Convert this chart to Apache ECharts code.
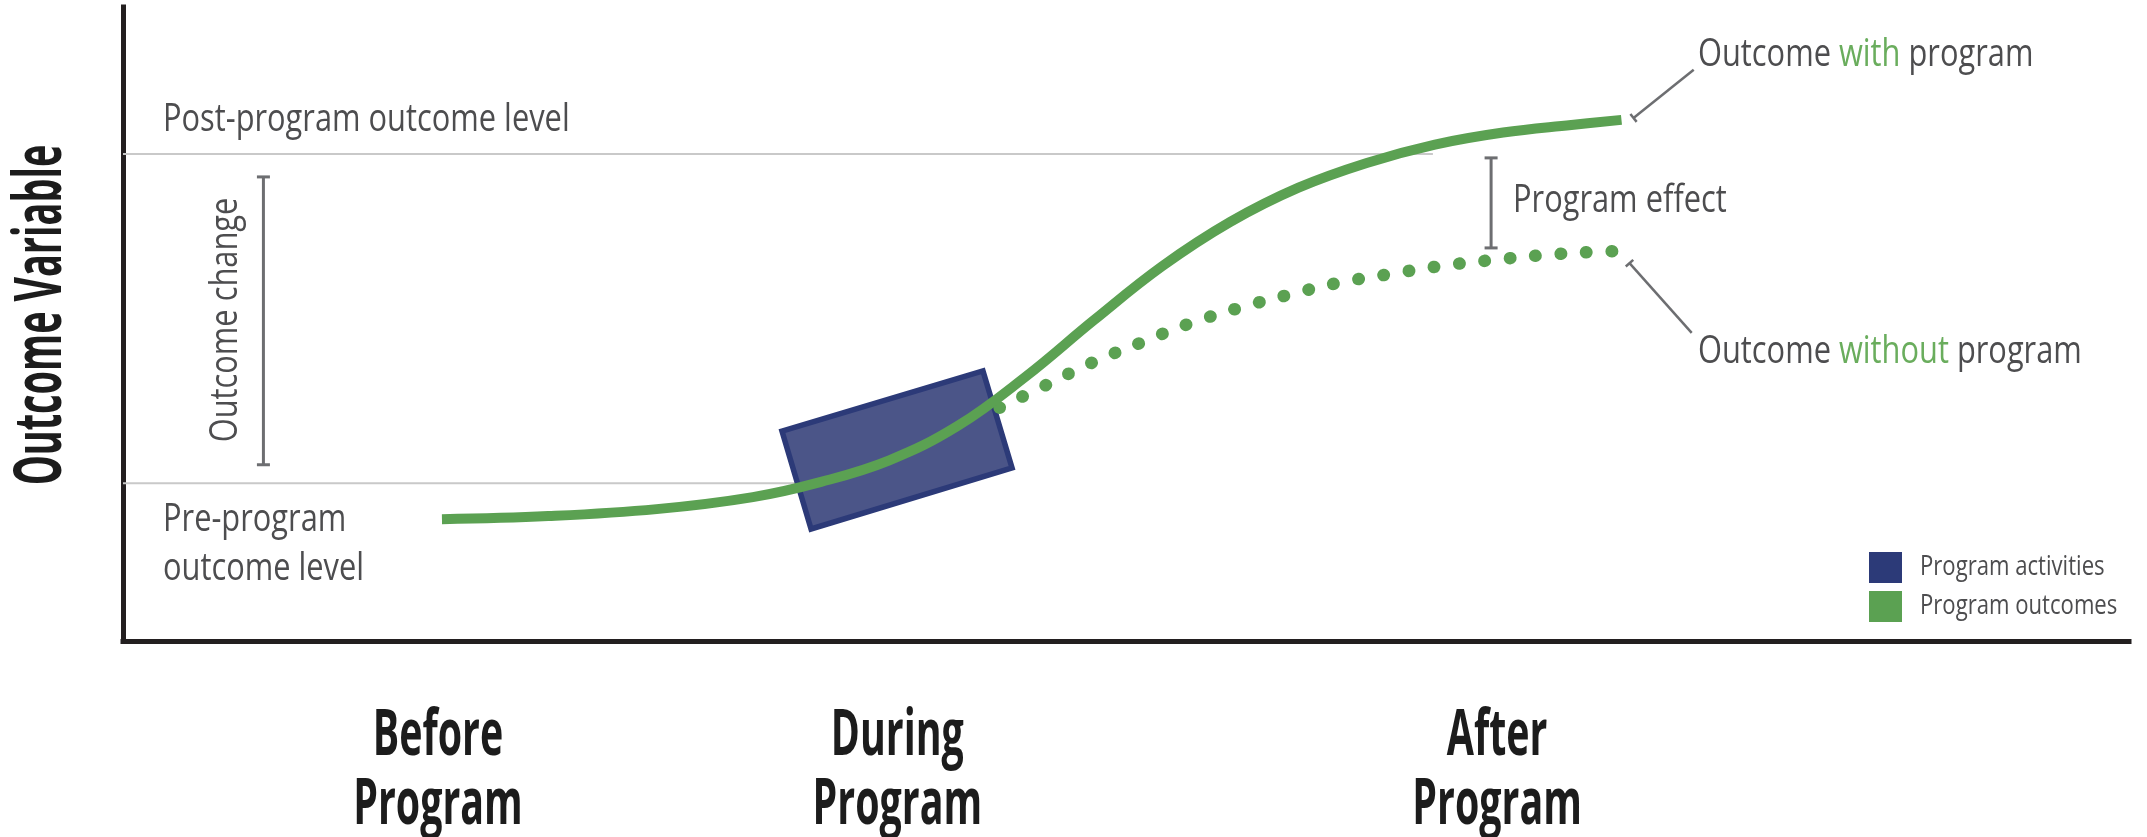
<!DOCTYPE html>
<html>
<head>
<meta charset="utf-8">
<script src="https://cdn.jsdelivr.net/npm/echarts@6/dist/echarts.min.js"></script>
<style>
  html, body { margin: 0; padding: 0; background: #fff; }
  #main { width: 2147px; height: 837px; }
</style>
</head>
<body>
<div id="main"></div>
<script>
// phases shown under the x axis
var phaseLabels = ['Before\nProgram', 'During\nProgram', 'After\nProgram'];
var phaseX = [15.7, 38.6, 68.5];

// outcome with program (solid curve)
var withX = [15.9, 21.2, 26.6, 31.4, 34.8, 38.2, 41.6, 45.0, 48.4, 51.8, 55.2, 58.6, 62.0, 65.4, 68.8, 72.2, 74.7];
var withY = [19.2, 19.7, 20.8, 22.7, 25.1, 28.5, 33.9, 41.7, 50.6, 59.1, 66.1, 71.5, 75.4, 78.3, 80.2, 81.4, 82.2];

// outcome without program (dotted curve)
var withoutX = [43.7, 45.9, 48.3, 50.7, 53.1, 55.6, 58.1, 60.6, 63.2, 65.8, 68.3, 70.9, 73.5, 74.8];
var withoutY = [36.8, 40.2, 43.9, 47.0, 50.0, 52.5, 54.6, 56.5, 57.9, 59.2, 60.1, 60.9, 61.4, 61.5];

// program activities box (corners)
var boxX = [32.85, 42.87, 44.32, 34.30];
var boxY = [33.12, 42.59, 27.29, 17.67];

// outcome levels
var preLevel = 24.9;
var postLevel = 76.8;

// brackets: [x, yTop, yBottom]
var changeBracket = [7.0, 73.2, 27.8];
var effectBracket = [68.2, 76.2, 62.0];

// leader lines: [x1, y1, x2, y2]
var withLeader = [75.3, 82.5, 78.3, 90.1];
var withoutLeader = [75.1, 59.6, 78.2, 48.6];

var GREEN = '#5ba152';
var GREEN_TEXT = '#6aad5d';
var NAVY = '#2c3a78';
var BOX_FILL = '#4b5588';
var INK = '#4d4d4f';
var DARK = '#1c1c1c';
var RULE = '#c9c9c9';
var BRACKET = '#6d6e71';
var FONT = 'Open Sans';
var SX = 0.79;   // fake a condensed face
var SXB = 0.615;

function zipXY(xs, ys) {
  return xs.map(function (x, i) { return [x, ys[i]]; });
}

function renderBracket(params, api) {
  var top = api.coord([api.value(0), api.value(1)]);
  var bot = api.coord([api.value(0), api.value(2)]);
  var w = 6.5;
  var st = { stroke: BRACKET, lineWidth: 3 };
  return {
    type: 'group',
    children: [
      { type: 'line', shape: { x1: top[0], y1: top[1], x2: bot[0], y2: bot[1] }, style: st },
      { type: 'line', shape: { x1: top[0] - w, y1: top[1], x2: top[0] + w, y2: top[1] }, style: st },
      { type: 'line', shape: { x1: bot[0] - w, y1: bot[1], x2: bot[0] + w, y2: bot[1] }, style: st }
    ]
  };
}

function renderLeader(params, api) {
  var a = api.coord([api.value(0), api.value(1)]);
  var b = api.coord([api.value(2), api.value(3)]);
  var dx = b[0] - a[0], dy = b[1] - a[1];
  var len = Math.sqrt(dx * dx + dy * dy);
  var px = -dy / len * 5, py = dx / len * 5;
  var st = { stroke: BRACKET, lineWidth: 2.5 };
  return {
    type: 'group',
    children: [
      { type: 'line', shape: { x1: a[0], y1: a[1], x2: b[0], y2: b[1] }, style: st },
      { type: 'line', shape: { x1: a[0] - px, y1: a[1] - py, x2: a[0] + px, y2: a[1] + py }, style: st }
    ]
  };
}

function txt(text, x, y, o) {
  o = o || {};
  var size = o.size || 39;
  var weight = o.weight || 'normal';
  var rich = {};
  if (o.rich) {
    Object.keys(o.rich).forEach(function (k) {
      rich[k] = { fill: o.rich[k], fontSize: size, fontFamily: FONT, fontWeight: weight };
    });
  }
  return {
    type: 'text',
    x: x,
    y: y,
    rotation: o.rot || 0,
    scaleX: o.sx || SX,
    silent: true,
    z: 100,
    style: {
      text: text,
      fill: o.fill || INK,
      fontSize: size,
      fontFamily: FONT,
      fontWeight: weight,
      align: o.align || 'left',
      verticalAlign: 'middle',
      lineHeight: o.lh || size * 1.2,
      rich: rich
    }
  };
}

var chartDom = document.getElementById('main');
var myChart = echarts.init(chartDom);
var option;

option = {
  backgroundColor: '#fff',
  animation: false,
  grid: { left: 123, right: 18, top: 7, bottom: 196 },
  xAxis: {
    type: 'value', min: 0, max: 100,
    axisLine: { show: true, lineStyle: { color: '#231f20', width: 5, cap: 'square' } },
    axisTick: { show: false }, axisLabel: { show: false }, splitLine: { show: false }
  },
  yAxis: {
    type: 'value', min: 0, max: 100,
    axisLine: { show: true, lineStyle: { color: '#231f20', width: 5, cap: 'square' } },
    axisTick: { show: false }, axisLabel: { show: false }, splitLine: { show: false }
  },
  series: [
    {
      name: 'Post-program outcome level', type: 'line', silent: true, showSymbol: false, z: 1,
      lineStyle: { color: RULE, width: 2 },
      data: [[0, postLevel], [65.3, postLevel]]
    },
    {
      name: 'Pre-program outcome level', type: 'line', silent: true, showSymbol: false, z: 1,
      lineStyle: { color: RULE, width: 2 },
      data: [[0, preLevel], [34, preLevel]]
    },
    {
      name: 'Program activities', type: 'custom', z: 2,
      renderItem: function (params, api) {
        var pts = boxX.map(function (x, i) { return api.coord([x, boxY[i]]); });
        return { type: 'polygon', shape: { points: pts }, style: { fill: BOX_FILL, stroke: NAVY, lineWidth: 5.5, lineJoin: 'miter' } };
      },
      data: [[boxX[0], boxY[0]]]
    },
    {
      name: 'Outcome without program', type: 'line', smooth: 0.4, showSymbol: false, z: 3,
      lineStyle: { color: GREEN, width: 12.5, type: [0.5, 25], cap: 'round' },
      data: zipXY(withoutX, withoutY)
    },
    {
      name: 'Outcome with program', type: 'line', smooth: 0.4, showSymbol: false, z: 4,
      lineStyle: { color: GREEN, width: 10, cap: 'butt' },
      data: zipXY(withX, withY)
    },
    {
      name: 'brackets', type: 'custom', z: 5, renderItem: renderBracket,
      data: [changeBracket, effectBracket]
    },
    {
      name: 'leaders', type: 'custom', z: 5, renderItem: renderLeader,
      data: [withLeader, withoutLeader]
    }
  ]
};

option && myChart.setOption(option);

// labels, placed after the scales exist
var graphics = [];
phaseLabels.forEach(function (lab, i) {
  var px = myChart.convertToPixel({ gridIndex: 0 }, [phaseX[i], 0])[0];
  graphics.push(txt(lab, px, 771, { size: 64, weight: 'bold', sx: SXB, fill: DARK, align: 'center', lh: 69 }));
});
graphics.push(txt('Outcome Variable', 42, 315, { size: 67, weight: 'bold', sx: 0.565, fill: DARK, align: 'center', rot: Math.PI / 2 }));
graphics.push(txt('Post-program outcome level', 163, 120));
graphics.push(txt('Pre-program', 163, 520));
graphics.push(txt('outcome level', 163, 569));
graphics.push(txt('Outcome change', 226, 320, { align: 'center', rot: Math.PI / 2 }));
graphics.push(txt('Program effect', 1513, 201));
graphics.push(txt('Outcome {g|with} program', 1698, 55, { rich: { g: GREEN_TEXT } }));
graphics.push(txt('Outcome {g|without} program', 1698, 352, { rich: { g: GREEN_TEXT } }));

// legend
graphics.push({ type: 'rect', shape: { x: 1869, y: 552, width: 33, height: 31 }, style: { fill: NAVY }, silent: true });
graphics.push({ type: 'rect', shape: { x: 1869, y: 591, width: 33, height: 31 }, style: { fill: GREEN }, silent: true });
graphics.push(txt('Program activities', 1920, 567, { size: 28 }));
graphics.push(txt('Program outcomes', 1920, 606, { size: 28 }));

myChart.setOption({ graphic: graphics });
</script>
</body>
</html>
